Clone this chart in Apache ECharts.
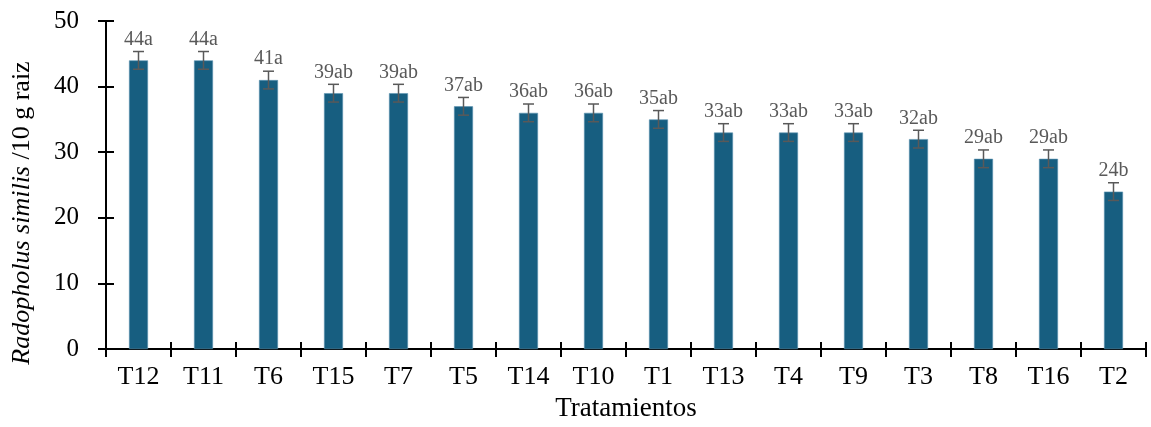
<!DOCTYPE html>
<html><head><meta charset="utf-8">
<script src="https://cdn.jsdelivr.net/npm/echarts@6/dist/echarts.min.js"></script>
<style>html,body{margin:0;padding:0;background:#fff}#c{width:1151px;height:427px}</style>
</head><body><div id="c"></div>
<script>
const categories = ['T12','T11','T6','T15','T7','T5','T14','T10','T1','T13','T4','T9','T3','T8','T16','T2'];
const values = [44,44,41,39,39,37,36,36,35,33,33,33,32,29,29,24];
const letters = ['a','a','a','ab','ab','ab','ab','ab','ab','ab','ab','ab','ab','ab','ab','b'];
const errors = [1.35,1.35,1.35,1.35,1.35,1.35,1.35,1.35,1.35,1.35,1.35,1.35,1.35,1.35,1.35,1.35];
const yTicks = [0,10,20,30,40,50];

const FONT = '"Liberation Serif", "Times New Roman", serif';
const chart = echarts.init(document.getElementById('c'));
const errData = values.map((v,i)=>[i, v, errors[i], v + letters[i]]);

chart.setOption({
  animation: false,
  grid: {left: 106, right: 5, top: 21, bottom: 74, containLabel: false},
  graphic: [{
    type: 'text', x: 22, y: 213, rotation: Math.PI / 2,
    style: {
      text: '{i|Radopholus similis}{n|\u00a0/10 g raiz}',
      align: 'center', verticalAlign: 'middle',
      rich: {
        i: {fontFamily: FONT, fontSize: 26, fontStyle: 'italic', fill: '#000', color: '#000'},
        n: {fontFamily: FONT, fontSize: 26, fill: '#000', color: '#000'}
      }
    }
  }],
  xAxis: [{
    type: 'category', data: categories, position: 'bottom',
    axisLine: {lineStyle: {color: '#000', width: 2}},
    axisTick: {show: true, length: 8, lineStyle: {color: '#000', width: 2}},
    axisLabel: {color: '#000', fontFamily: FONT, fontSize: 26, margin: 15},
    name: 'Tratamientos', nameLocation: 'middle', nameGap: 39,
    nameTextStyle: {color: '#000', fontFamily: FONT, fontSize: 27}
  },{
    type: 'category', data: categories, position: 'bottom',
    axisLine: {show: false},
    axisTick: {show: true, inside: true, length: 7, lineStyle: {color: '#000', width: 2}},
    axisLabel: {show: false}
  }],
  yAxis: [{
    type: 'value', min: 0, max: 50, interval: 10,
    splitLine: {show: false},
    axisLine: {show: true, lineStyle: {color: '#000', width: 2}},
    axisTick: {show: true, length: 8, lineStyle: {color: '#000', width: 2}},
    axisLabel: {color: '#000', fontFamily: FONT, fontSize: 25, margin: 27}
  },{
    type: 'value', min: 0, max: 50, interval: 10, position: 'left',
    splitLine: {show: false},
    axisLine: {show: false},
    axisTick: {show: true, inside: true, length: 8, lineStyle: {color: '#000', width: 2}},
    axisLabel: {show: false}
  }],
  series: [{
    type: 'bar', data: values, barWidth: 19,
    itemStyle: {color: '#175e80', borderColor: '#5d94b0', borderWidth: 0.6},
    z: 2
  },{
    type: 'custom', data: errData, z: 5,
    renderItem: function(params, api){
      const i = api.value(0), v = api.value(1), e = api.value(2);
      const top = api.coord([i, v + e]);
      const bot = api.coord([i, v - e]);
      const x = top[0], hw = 5.5;
      const st = {stroke: '#595959', lineWidth: 1.5};
      return {type: 'group', children: [
        {type: 'line', shape: {x1: x, y1: top[1], x2: x, y2: bot[1]}, style: st},
        {type: 'line', shape: {x1: x-hw, y1: top[1], x2: x+hw, y2: top[1]}, style: st},
        {type: 'line', shape: {x1: x-hw, y1: bot[1], x2: x+hw, y2: bot[1]}, style: st},
        {type: 'text', x: x, y: top[1] - 2, style: {
          text: api.value(3), textAlign: 'center', textVerticalAlign: 'bottom',
          fill: '#595959', font: '20px ' + FONT}}
      ]};
    }
  }]
});
</script></body></html>
